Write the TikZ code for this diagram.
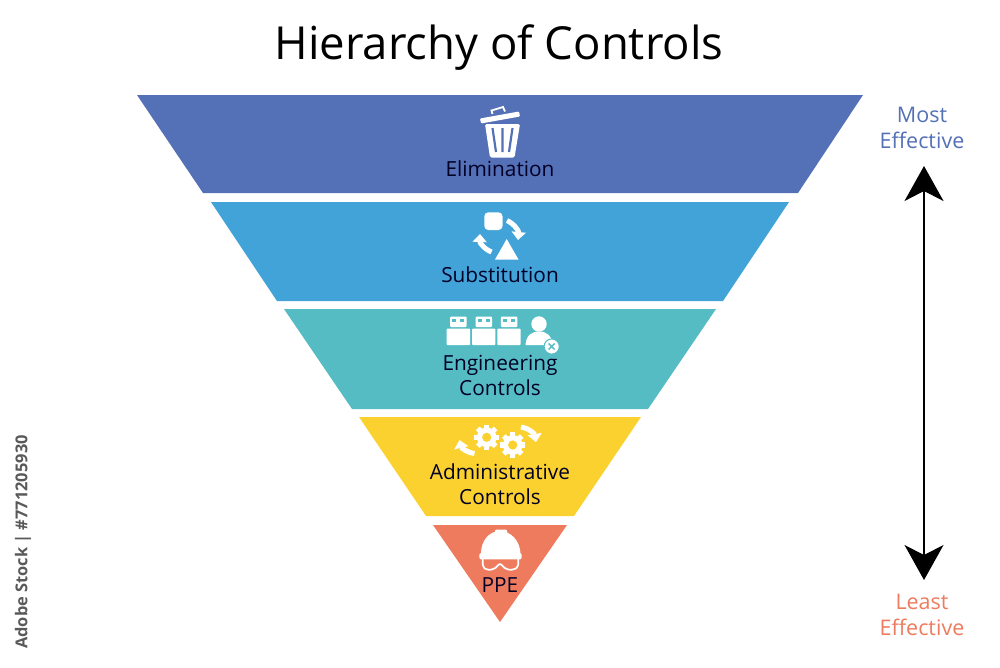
\documentclass[tikz,border=0pt]{standalone}
\usepackage{fontspec}
\setmainfont{Open Sans}
\usetikzlibrary{arrows.meta}
\definecolor{elimblue}{HTML}{5470B6}
\definecolor{subblue}{HTML}{42A3D9}
\definecolor{engteal}{HTML}{55BCC4}
\definecolor{admyellow}{HTML}{FBD130}
\definecolor{ppered}{HTML}{EE7B5E}
\tikzset{
  lbl/.style={font=\fontsize{20.8}{25}\selectfont,align=center,text=black!85!blue,inner sep=0pt},
  side/.style={font=\fontsize{21.5}{25.5}\selectfont,align=center,inner sep=0pt},
  icon/.style={fill=white,draw=none},
  turn/.style={draw=white,line width=5pt,-{Triangle[length=8pt,width=14pt]}},
}
\newcommand{\geartool}[3]{% centre x, centre y, hole colour
  \foreach \a in {0,45,...,315}
    \fill[white,shift={(#1,#2)},rotate=\a] (-2.6,-12.6) rectangle (2.6,-8);
  \fill[white] (#1,#2) circle[radius=9.8];
  \fill[#3] (#1,#2) circle[radius=4.6];
}
\begin{document}
\begin{tikzpicture}[x=1pt,y=-1pt]
  \useasboundingbox (0,0) rectangle (1000,667);
  \node[font=\fontsize{45.5}{50}\selectfont,inner sep=0pt] (title) at (499,48) {Hierarchy of Controls};
  % funnel bands
  \fill[elimblue] (137,95) -- (863,95) -- (798,193) -- (203,193) -- cycle;
  \fill[subblue] (211,202) -- (789,202) -- (723,301) -- (277,301) -- cycle;
  \fill[engteal] (284,309) -- (716,309) -- (648,409) -- (352,409) -- cycle;
  \fill[admyellow] (359,417) -- (641,417) -- (574,516) -- (426,516) -- cycle;
  \fill[ppered] (433,525) -- (567,525) -- (500,622) -- cycle;
  % labels
  \node[lbl] (elim) at (500,169) {Elimination};
  \node[lbl] (subst) at (500,275) {Substitution};
  \node[lbl] (eng) at (500,375) {Engineering\\Controls};
  \node[lbl] (admin) at (500,484) {Administrative\\Controls};
  \node[lbl] (ppe) at (500,585) {PPE};
  % bin
  \fill[icon,rounded corners=1pt] (480,118.5) -- (519,111.5) -- (520,116.5) -- (481,123.5) -- cycle;
  \draw[white,line width=1.8pt] (492.5,114) -- (491.5,110.5) -- (503,107) -- (505,111.5);
  \fill[icon,rounded corners=1.5pt] (485,124) -- (520,124) -- (514.5,157.5) -- (490,157.5) -- cycle;
  \draw[elimblue,line width=2.2pt] (492.5,128) -- (496,152) (502.5,128) -- (502.5,152) (512.5,128) -- (509,152);
  % shapes swap
  \fill[icon,rounded corners=4pt] (484.3,212.3) rectangle (502.5,230);
  \fill[icon] (495,259.5) -- (518.5,259.5) -- (506.7,239) -- cycle;
  \draw[turn] (507,220.5) to[bend left=35] (518,240);
  \draw[turn] (491.5,252) to[bend left=35] (480,234);
  % machines and person
  \foreach \x in {446.7,472,497.3}{
    \fill[icon,rounded corners=1pt] (\x,328.5) rectangle ++(23.4,16.7);
    \fill[icon,rounded corners=1pt] (\x+3.5,316.5) rectangle ++(16.5,10.5);
    \fill[engteal] (\x+5.5,319) rectangle ++(4,2.5);
    \fill[engteal] (\x+13.5,319) rectangle ++(4,2.5);
  }
  \fill[icon] (539,324) circle[radius=7.7];
  \fill[icon] (525.5,345) .. controls (526,336) and (531,331.5) .. (539,331.5) .. controls (547,331.5) and (552,336) .. (552.5,345) -- cycle;
  \fill[icon,draw=engteal,line width=1pt] (551.7,346.5) circle[radius=7.6];
  \draw[engteal,line width=1.4pt] (548.7,343.5) -- (554.7,349.5) (554.7,343.5) -- (548.7,349.5);
  % gears
  \geartool{486.7}{437.3}{admyellow}
  \geartool{512.7}{445}{admyellow}
  \draw[turn] (474.5,453.5) to[bend left=35] (459.5,440);
  \draw[turn] (521,427) to[bend left=35] (536,442);
  % helmet
  \fill[icon] (481,553.5) .. controls (481,541) and (489,531) .. (500,531) .. controls (511,531) and (520,541) .. (520.5,553.5) -- cycle;
  \fill[icon,rounded corners=1pt] (495,529.5) rectangle (507,536);
  \fill[icon,rounded corners=1.5pt] (479.3,553) rectangle (521.7,559.3);
  \draw[white,line width=1.7pt,rounded corners=2pt] (482.7,559) -- (482.7,566.7) -- (486.7,570) -- (494,569.3) -- (500,563.3) -- (506,569.3) -- (513.3,570) -- (518.3,566.7) -- (518.3,559);
  % scale on the right
  \node[side,text=elimblue] (most) at (922,128) {Most\\Effective};
  \node[side,text=ppered] (least) at (922,615) {Least\\Effective};
  \coordinate (arrowtop) at (924,166);
  \coordinate (arrowbot) at (924,580);
  \draw[line width=1.2pt,{Stealth[length=35pt,width=39pt,inset=10pt]}-{Stealth[length=35pt,width=39pt,inset=10pt]}] (arrowtop) -- (arrowbot);
  \node[font=\fontsize{16.4}{20}\selectfont\bfseries,text=black!65,rotate=90,inner sep=0pt] (stock) at (23,542) {Adobe Stock | \#771205930};
\end{tikzpicture}
\end{document}
